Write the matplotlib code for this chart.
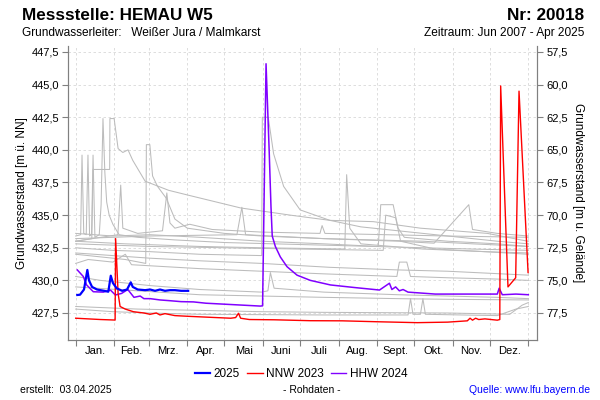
import matplotlib
matplotlib.use("Agg")
import matplotlib.pyplot as plt
import numpy as np

plt.rcParams['font.family'] = ['Liberation Sans', 'DejaVu Sans']

# ---------------- data (day of year, level m ü. NN) ----------------
months = ["Jan.", "Feb.", "Mrz.", "Apr.", "Mai", "Juni", "Juli", "Aug.", "Sept.", "Okt.", "Nov.", "Dez."]
month_starts = [0, 31, 59, 90, 120, 151, 181, 212, 243, 273, 304, 334, 365]
left_ticks = [427.5, 430.0, 432.5, 435.0, 437.5, 440.0, 442.5, 445.0, 447.5]
right_ticks = [57.5, 60.0, 62.5, 65.0, 67.5, 70.0, 72.5, 75.0, 77.5]
ground_level = 505.0

y2025_days = [1.3, 3.5, 6.7, 9.4, 10.7, 13.2, 17.2, 22.9, 26.3, 28.3, 30, 33, 37.4, 41.4, 44.4, 46, 50, 56, 60, 64, 68, 72, 76, 80, 85, 90.7]
y2025_vals = [428.88, 428.9, 429.3, 430.8, 430.0, 429.5, 429.3, 429.2, 429.13, 430.36, 429.8, 429.4, 429.2, 429.3, 429.85, 429.5, 429.3, 429.25, 429.3, 429.2, 429.3, 429.2, 429.25, 429.25, 429.2, 429.2]

nnw_days = [0, 10, 20, 31.8, 32.2, 34.2, 35.8, 40, 46.5, 55, 60, 65, 68, 72, 80, 90, 108.5, 125, 129, 131.3, 133, 140, 160, 189, 215, 243, 275.4, 300, 315.8, 318, 320, 322.5, 325, 330, 340, 342, 342.7, 348.6, 354.8, 357.5, 364.8]
nnw_vals = [427.1, 427.05, 427.0, 426.96, 433.2, 429.0, 428.0, 427.8, 427.6, 427.5, 427.4, 427.5, 427.35, 427.45, 427.3, 427.25, 427.17, 427.1, 427.15, 427.48, 427.1, 427.0, 426.98, 426.91, 426.9, 426.83, 426.76, 426.8, 426.9, 427.1, 426.95, 427.1, 427.0, 427.05, 426.95, 427.0, 444.9, 429.5, 430.2, 444.5, 430.6]

hhw_days = [1.3, 6.1, 8.8, 14.2, 22.3, 28, 32, 37, 42, 47, 52, 55, 60, 68, 75, 85, 95, 105, 115, 125, 135, 145, 148.9, 150.7, 153.5, 156, 157.5, 158.5, 161, 165, 170.4, 178.5, 189.2, 205.4, 225, 245, 253, 255, 258, 261, 264, 268, 290, 320, 340, 341.5, 344, 355, 365]
hhw_vals = [430.8, 430.3, 429.65, 429.13, 429.1, 429.26, 428.88, 429.0, 429.3, 428.7, 428.8, 428.6, 428.6, 428.5, 428.45, 428.37, 428.35, 428.25, 428.2, 428.15, 428.1, 428.05, 428.03, 428.05, 446.6, 440.0, 435.6, 433.4, 432.6, 431.8, 431.05, 430.4, 430.0, 429.65, 429.45, 429.26, 429.78, 429.3, 429.5, 429.2, 429.3, 429.1, 428.95, 428.95, 428.95, 429.4, 428.9, 428.95, 428.9]

grey_series = [
    ([0, 13, 14, 27.4, 27.6, 31, 34.2, 38, 42.2, 46, 56, 75, 92, 133, 173, 205, 240, 278, 332, 359, 365],
     [433.0, 433.2, 438.5, 438.5, 442.4, 442.4, 440.1, 439.8, 440.0, 439.2, 437.6, 436.9, 436.5, 435.55, 435.0, 434.6, 434.5, 434.0, 433.6, 433.1, 433.0]),
    ([0, 4, 5.1, 6.5, 8.5, 9.9, 11.2, 12.8, 14, 15.5, 19, 20.5, 22, 23.5, 25, 27, 30, 35, 50, 80, 120, 160, 200, 240, 280, 320, 365],
     [433.4, 433.5, 439.6, 433.6, 433.5, 439.6, 433.4, 433.5, 439.6, 433.3, 433.5, 435.8, 442.4, 438.3, 436.0, 435.0, 434.3, 433.5, 433.3, 433.1, 432.9, 432.8, 432.7, 432.6, 432.5, 432.4, 432.3]),
    ([0, 20, 40, 56.5, 57, 59.8, 62, 66, 73, 80, 90, 120, 150, 200, 240, 280, 320, 365],
     [432.0, 431.8, 431.6, 431.3, 440.4, 440.4, 438.0, 437.2, 436.3, 434.7, 434.0, 433.6, 433.4, 433.2, 433.1, 433.0, 432.8, 432.6]),
    ([0, 30, 60, 100, 150, 150.5, 155.3, 159.6, 167.7, 181, 205, 230, 260, 300, 340, 365],
     [432.5, 432.3, 432.2, 432.0, 431.9, 442.5, 442.5, 439.7, 437.2, 435.4, 434.6, 434.1, 433.8, 433.4, 433.0, 432.8]),
    ([0, 40, 100, 150, 217, 218.5, 221, 230, 280, 330, 365],
     [433.0, 432.8, 432.6, 432.5, 432.4, 438.1, 434.0, 432.8, 432.4, 432.2, 432.1]),
    ([0, 30, 60, 100, 150, 200, 244, 246, 256, 260, 265, 300, 340, 365],
     [433.6, 433.4, 433.5, 433.3, 433.0, 432.8, 432.6, 435.8, 435.8, 434.0, 433.3, 433.0, 432.8, 432.6]),
    ([0, 60, 120, 180, 248, 250, 258, 262, 290, 330, 365],
     [432.8, 432.6, 432.5, 432.4, 432.3, 435.0, 434.8, 433.0, 432.4, 432.2, 432.0]),
    ([0, 60, 130, 134, 137, 200, 260, 289, 317, 320, 340, 365],
     [433.2, 433.4, 433.5, 435.6, 433.5, 433.2, 433.0, 432.85, 435.8, 433.9, 433.6, 433.4]),
    ([0, 10, 30, 40, 45, 100, 150, 200, 259, 261, 267, 270, 300, 340, 365],
     [431.3, 431.6, 431.4, 432.0, 431.2, 430.9, 430.7, 430.5, 430.3, 431.4, 431.4, 430.3, 430.2, 430.1, 430.0]),
    ([0, 30, 60, 100, 150, 205, 260, 300, 365],
     [432.1, 431.9, 431.7, 431.5, 431.3, 431.0, 430.8, 430.7, 430.4]),
    ([0, 20, 40, 60, 100, 150, 155, 157, 160, 200, 260, 300, 340, 365],
     [430.3, 430.0, 429.8, 429.6, 429.3, 429.1, 429.2, 430.6, 429.4, 429.1, 428.9, 428.8, 428.7, 428.6]),
    ([0, 50, 100, 150, 200, 260, 300, 365],
     [429.5, 429.2, 428.9, 428.8, 428.7, 428.6, 428.55, 428.5]),
    ([0, 30, 60, 100, 200, 268, 270, 272, 278, 280, 282, 340, 355, 365],
     [427.8, 427.6, 427.5, 427.4, 427.35, 427.35, 428.6, 427.4, 427.4, 428.6, 427.4, 427.3, 427.8, 428.0]),
    ([0, 50, 100, 150, 200, 300, 350, 360, 365],
     [428.0, 427.8, 427.7, 427.6, 427.55, 427.5, 427.4, 428.1, 428.3]),
    ([0, 34, 36.3, 38, 50, 70, 73.5, 76, 80, 92, 110, 150, 197, 198.7, 201, 250, 300, 365],
     [433.0, 433.5, 437.3, 434.0, 433.6, 433.8, 436.7, 434.4, 434.0, 434.3, 433.9, 433.7, 433.6, 434.2, 433.6, 433.5, 433.4, 433.3]),
]

# ---------------- figure ----------------
fig = plt.figure(figsize=(6, 4), dpi=100)
ax = fig.add_axes([68/600, 1-340/400, (537-68)/600, (340-46)/400])

for d, v in grey_series:
    ax.plot(d, v, color='#bcbcbc', lw=0.75, zorder=2)
ax.plot(hhw_days, hhw_vals, color='#8000ff', lw=1.1, zorder=3)
ax.plot(nnw_days, nnw_vals, color='#ff0000', lw=1.0, zorder=4)
ax.plot(y2025_days, y2025_vals, color='#0000ff', lw=1.6, zorder=5)

ylo = 427.5 - 27/13.05
yhi = 447.5 + 6/13.05
ax.set_ylim(ylo, yhi)
ax.set_xlim(-6.2, 372)

ax.set_yticks(left_ticks)
ax.set_yticklabels([f"{t:.1f}".replace('.', ',') for t in left_ticks], fontsize=8)
ax.set_xticks(month_starts)
ax.set_xticklabels([])
mids = [(month_starts[i] + month_starts[i+1]) / 2 for i in range(12)]
ax.set_xticks(mids, minor=True)
ax.set_xticklabels(months, minor=True, fontsize=8)
ax.tick_params(axis='x', which='minor', length=0, pad=4)
ax.tick_params(axis='x', which='major', length=4, color='#808080')
ax.tick_params(axis='y', length=4, color='#808080', pad=2)

ax.grid(True, which='major', linestyle=(0, (3, 3)), color='#d8d8d8', lw=0.6)
ax.set_axisbelow(True)
ax.spines['top'].set_visible(False)
for s in ['left', 'bottom', 'right']:
    ax.spines[s].set_color('#808080')

ax2 = ax.twinx()
ax2.set_ylim(ground_level - ylo, ground_level - yhi)
ax2.set_yticks(right_ticks)
ax2.set_yticklabels([f"{t:.1f}".replace('.', ',') for t in right_ticks], fontsize=8)
ax2.tick_params(axis='y', length=4, color='#808080', pad=3)
ax2.spines['top'].set_visible(False)
for s in ['left', 'bottom', 'right']:
    ax2.spines[s].set_color('#808080')

ax.set_ylabel("Grundwasserstand [m ü. NN]", fontsize=8.5, labelpad=3)
ax2.set_ylabel("Grundwasserstand [m u. Gelände]", fontsize=8.5, rotation=270, labelpad=11)

# header texts
fig.text(22/600, 1-15/400, "Messstelle: HEMAU W5", fontsize=12.3, fontweight='bold', va='center', ha='left')
fig.text(584/600, 1-15/400, "Nr: 20018", fontsize=12.3, fontweight='bold', va='center', ha='right')
fig.text(22/600, 1-33/400, "Grundwasserleiter:   Weißer Jura / Malmkarst", fontsize=8.6, va='center', ha='left')
fig.text(584/600, 1-33/400, "Zeitraum: Jun 2007 - Apr 2025", fontsize=8.6, va='center', ha='right')

# legend
handles = [plt.Line2D([], [], color='#0000ff', lw=1.6),
           plt.Line2D([], [], color='#ff0000', lw=1.0),
           plt.Line2D([], [], color='#8000ff', lw=1.0)]
fig.legend(handles, ["2025", "NNW 2023", "HHW 2024"], loc='center', bbox_to_anchor=(0.502, 1-374/400),
           ncol=3, frameon=False, fontsize=8.5, handlelength=1.3, handletextpad=0.3, columnspacing=0.6)

# footer
fig.text(20/600, 1-390/400, "erstellt:  03.04.2025", fontsize=7.5, va='center', ha='left')
fig.text(312/600, 1-390/400, "- Rohdaten -", fontsize=7.5, va='center', ha='center')
fig.text(590/600, 1-390/400, "Quelle: www.lfu.bayern.de", fontsize=7.5, va='center', ha='right', color='#0000ff')

fig.savefig("out.png", dpi=100)
